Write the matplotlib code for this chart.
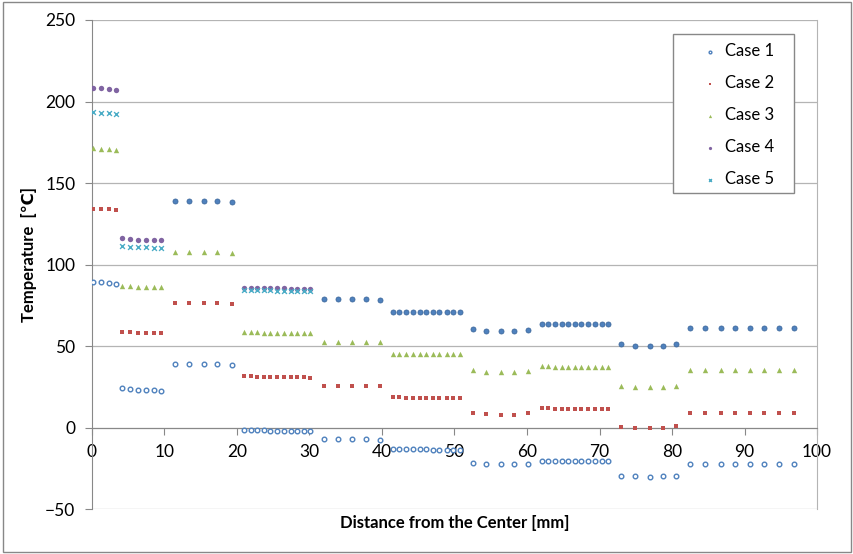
import matplotlib
matplotlib.use('Agg')
import matplotlib.pyplot as plt
from matplotlib.patches import Rectangle

plt.rcParams['font.family'] = ['Lato', 'DejaVu Sans']

# x positions of the measuring points, one list per segment
seg_x = [
    [0.2, 1.2, 2.3, 3.3],
    [4.2, 5.3, 6.4, 7.4, 8.5, 9.5],
    [11.4, 13.4, 15.4, 17.3, 19.3],
    [21.0, 21.9, 22.8, 23.7, 24.6, 25.5, 26.5, 27.4, 28.3, 29.2, 30.1],
    [32.0, 34.0, 35.9, 37.8, 39.7],
    [41.5, 42.4, 43.3, 44.3, 45.2, 46.1, 47.0, 47.9, 48.9, 49.8, 50.7],
    [52.5, 54.4, 56.4, 58.2, 60.2],
    [62.0, 62.9, 63.8, 64.8, 65.7, 66.6, 67.5, 68.4, 69.4, 70.3, 71.2],
    [73.0, 74.9, 76.9, 78.7, 80.6],
    [82.5, 84.6, 86.7, 88.7, 90.8, 92.7, 94.8, 96.8],
]

case1 = [
    [89, 89, 88.8, 88],
    [24, 23.7, 23.3, 23.3, 23, 22.7],
    [39, 39, 39, 39, 38.3],
    [-1.5, -1.6, -1.7, -1.8, -1.9, -2, -2, -2.1, -2.2, -2.2, -2.3],
    [-7, -7.3, -7.3, -7.3, -7.6],
    [-13.2, -13.3, -13.3, -13.4, -13.4, -13.4, -13.5, -13.5, -13.5, -13.6, -13.6],
    [-21.5, -22.4, -22.4, -22.4, -22.2],
    [-20.3, -20.3, -20.4, -20.4, -20.4, -20.5, -20.5, -20.5, -20.6, -20.6, -20.6],
    [-29.5, -30, -30.2, -30, -29.5],
    [-22.5, -22.5, -22.5, -22.5, -22.5, -22.5, -22.5, -22.5],
]
case2 = [
    [134, 134, 134, 133.3],
    [58.5, 58.3, 58, 58, 58, 57.8],
    [76.5, 76.5, 76.5, 76.5, 75.7],
    [31.5, 31.3, 31.2, 31.1, 31, 30.9, 30.8, 30.8, 30.7, 30.7, 30.6],
    [25.5, 25.3, 25.3, 25.3, 25.2],
    [18.5, 18.5, 18.4, 18.4, 18.4, 18.4, 18.4, 18.3, 18.3, 18.3, 18.3],
    [9, 8.5, 7.8, 7.8, 8.7],
    [11.7, 11.7, 11.6, 11.6, 11.6, 11.6, 11.5, 11.5, 11.5, 11.5, 11.5],
    [0.5, 0, -0.5, 0, 0.7],
    [9, 9, 9, 9, 9, 9, 9, 9],
]
case3 = [
    [171.5, 171, 170.7, 170.2],
    [87, 86.7, 86.4, 86.3, 86.2, 86],
    [107.7, 107.8, 107.8, 107.7, 107.1],
    [58.5, 58.4, 58.3, 58.2, 58.2, 58.1, 58.1, 58, 58, 58, 58],
    [52.6, 52.5, 52.5, 52.4, 52.2],
    [45, 45, 45, 44.9, 44.9, 44.9, 44.9, 44.8, 44.8, 44.8, 44.8],
    [35, 34.3, 34.2, 34.3, 34.4],
    [37.5, 37.5, 37.4, 37.4, 37.4, 37.4, 37.3, 37.3, 37.3, 37.3, 37.3],
    [25.5, 24.8, 24.6, 24.8, 25.5],
    [35, 35, 35, 35, 35, 35, 35, 35],
]
# cases 4 and 5 only exist in segments 0, 1 and 3
case4 = {
    0: [208.5, 208.2, 207.8, 207.2],
    1: [116, 115.5, 115, 115, 114.8, 114.8],
    3: [85.5, 85.5, 85.4, 85.4, 85.3, 85.3, 85.3, 85.2, 85.2, 85.1, 85.1],
}
case5 = {
    0: [193.3, 193.2, 193, 192.2],
    1: [111.5, 111, 110.7, 110.5, 110.4, 110.3],
    3: [84.2, 84.2, 84.1, 84.1, 84.1, 84, 84, 84, 84, 83.9, 83.9],
}
# unlabelled filled blue series in the other segments
extra = {
    2: [139, 139, 139, 139, 138.4],
    4: [79, 79, 79, 79, 78.5],
    5: [71, 71, 71, 71, 71, 71, 71, 71, 71, 71, 71],
    6: [60.5, 59.5, 59.5, 59.5, 60],
    7: [63.8, 63.8, 63.8, 63.8, 63.8, 63.8, 63.8, 63.8, 63.8, 63.8, 63.8],
    8: [51, 50, 50, 50, 51],
    9: [61, 61, 61, 61, 61, 61, 61, 61],
}


def flat(vals):
    xs, ys = [], []
    items = vals.items() if isinstance(vals, dict) else enumerate(vals)
    for k, v in items:
        xs += seg_x[k]
        ys += v
    return xs, ys


fig = plt.figure(figsize=(8.54, 5.54), dpi=100)
ax = fig.add_axes([0.1077, 0.0812, 0.849, 0.8827])

x, y = flat(extra)
ax.scatter(x, y, s=13, marker='o', facecolor='#4f81bd', edgecolor='#3f6a9e',
           linewidth=0.6, zorder=3, label='_nolegend_')
x, y = flat(case1)
ax.scatter(x, y, s=11, marker='o', facecolor='white', edgecolor='#4f81bd',
           linewidth=1.0, zorder=3, label='Case 1')
x, y = flat(case2)
ax.scatter(x, y, s=12, marker='s', color='#c0504d', linewidth=0, zorder=3, label='Case 2')
x, y = flat(case3)
ax.scatter(x, y, s=15, marker='^', color='#9bbb59', linewidth=0, zorder=3, label='Case 3')
x, y = flat(case4)
ax.scatter(x, y, s=15, marker='o', color='#8064a2', linewidth=0, zorder=3, label='Case 4')
x, y = flat(case5)
ax.scatter(x, y, s=12, marker='x', color='#4bacc6', linewidth=1.0, zorder=3, label='Case 5')

ax.set_xlim(0, 100)
ax.set_ylim(-50, 250)
ax.set_xticks(range(0, 101, 10))
ax.set_yticks(range(-50, 251, 50))
ax.yaxis.grid(True, color='#b4b4b4', linewidth=0.9)
ax.set_axisbelow(True)

ax.spines['bottom'].set_position(('data', 0))
for s in ['bottom', 'left']:
    ax.spines[s].set_color('#888888')
ax.spines['top'].set_visible(False)
ax.spines['right'].set_color('#b4b4b4')
ax.tick_params(axis='both', direction='out', length=5, color='#888888',
               labelsize=12.5, labelcolor='black')
ax.tick_params(axis='x', pad=7)
ax.tick_params(axis='y', pad=7)

ax.set_xlabel('Distance from the Center [mm]', fontsize=12, fontweight='bold')
ax.xaxis.set_label_coords(0.5, -0.012)
ax.set_ylabel('Temperature  [℃]', fontsize=12, fontweight='bold')
ax.yaxis.set_label_coords(-0.076, 0.52)

leg = ax.legend(loc='upper left', bbox_to_anchor=(0.830, 0.969), fontsize=12,
                frameon=False, markerscale=0.6, labelspacing=0.96,
                borderpad=0.5, handlelength=1.0, handletextpad=0.4, borderaxespad=0)
# legend box drawn by hand, it is wider than its content
ax.add_patch(Rectangle((0.8014, 0.6456), 0.1669, 0.3258, transform=ax.transAxes,
                       facecolor='white', edgecolor='#888888', linewidth=1.0, zorder=4))
leg.set_zorder(5)

fig.patches.append(Rectangle((0.003, 0.004), 0.994, 0.992, transform=fig.transFigure,
                             fill=False, edgecolor='#888888', linewidth=1.0))

plt.savefig('out.png', dpi=100)
